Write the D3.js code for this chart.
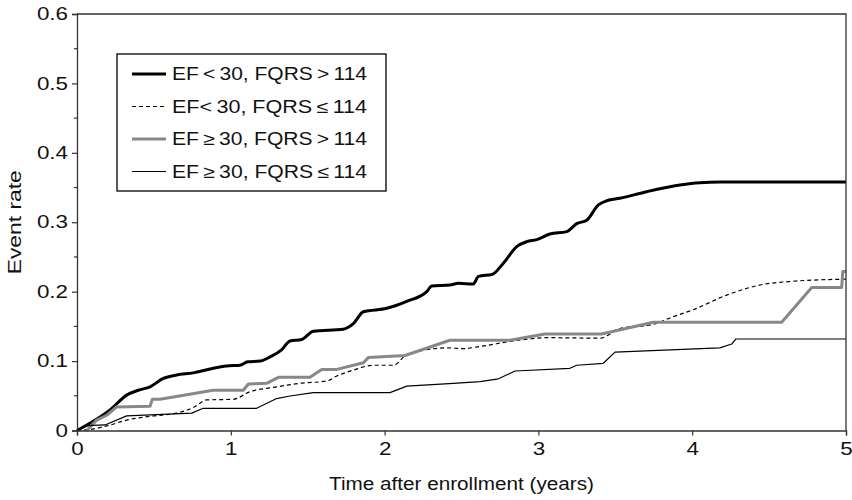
<!DOCTYPE html>
<html>
<head>
<meta charset="utf-8">
<script src="https://cdn.jsdelivr.net/npm/d3@7"></script>
<style>
  html, body { margin: 0; padding: 0; background: #fff; }
  svg { display: block; }
  text { font-family: "Liberation Sans", Arial, Helvetica, sans-serif; fill: #111; }
</style>
</head>
<body>
<svg id="chart" width="852" height="500"></svg>
<script>
// Cumulative event rate by group: [years after enrollment, event rate]
const efLowFqrsHigh = [
  [0,0],[0.215,0.0295],[0.323,0.051],[0.399,0.058],[0.475,0.063],[0.561,0.075],[0.648,0.080],
  [0.756,0.083],[0.865,0.0886],[0.973,0.093],[1.06,0.094],[1.11,0.099],[1.19,0.100],[1.255,0.106],
  [1.33,0.116],[1.385,0.129],[1.46,0.131],[1.537,0.143],[1.73,0.146],[1.797,0.154],[1.862,0.171],
  [2.014,0.176],[2.144,0.186],[2.274,0.200],[2.306,0.208],[2.425,0.2096],[2.48,0.212],[2.577,0.211],
  [2.61,0.222],[2.70,0.225],[2.772,0.241],[2.859,0.265],[2.924,0.272],[2.989,0.275],[3.075,0.283],
  [3.184,0.2865],[3.249,0.298],[3.314,0.303],[3.39,0.325],[3.444,0.331],[3.53,0.3345],[3.704,0.344],
  [3.92,0.3536],[4.05,0.357],[4.18,0.358],[5.0,0.358]
];
const efLowFqrsLow = [
  [0,0],[0.1,0.002],[0.2,0.007],[0.323,0.015],[0.496,0.021],[0.648,0.025],[0.756,0.033],[0.843,0.044],
  [1.016,0.045],[1.125,0.056],[1.276,0.062],[1.45,0.068],[1.624,0.0713],[1.689,0.0785],[1.797,0.087],
  [1.927,0.094],[2.057,0.094],[2.144,0.109],[2.404,0.119],[2.51,0.118],[2.62,0.121],[2.837,0.129],
  [3.054,0.1337],[3.4,0.133],[3.53,0.147],[3.747,0.153],[3.877,0.164],[4.007,0.174],[4.224,0.195],
  [4.441,0.2096],[4.657,0.215],[5.0,0.218]
];
const efHighFqrsHigh = [
  [0.063,0],[0.128,0.015],[0.193,0.022],[0.258,0.034],[0.475,0.035],[0.49,0.045],[0.54,0.045],
  [0.886,0.058],[1.081,0.058],[1.114,0.067],[1.233,0.068],[1.309,0.0766],[1.515,0.0766],[1.591,0.088],
  [1.689,0.088],[1.862,0.0977],[1.894,0.105],[2.133,0.108],[2.425,0.130],[2.815,0.130],[3.043,0.139],
  [3.411,0.139],[3.747,0.156],[4.582,0.156],[4.777,0.206],[4.972,0.206],[4.979,0.229],[5.0,0.229]
];
const efHighFqrsLow = [
  [0,0],[0.063,0.007],[0.182,0.008],[0.323,0.021],[0.746,0.025],[0.821,0.032],[1.168,0.032],
  [1.298,0.046],[1.385,0.0497],[1.537,0.0545],[2.035,0.0545],[2.144,0.064],[2.447,0.068],[2.62,0.0703],
  [2.74,0.0745],[2.848,0.0857],[3.205,0.0896],[3.249,0.094],[3.422,0.0968],[3.498,0.113],[4.18,0.119],
  [4.257,0.1246],[4.283,0.1318],[5.0,0.1318]
];

const legendLabels = [
  "EF\u2009<\u200930, FQRS\u2009>\u2009114",
  "EF<\u200930, FQRS\u2009\u2264\u2009114",
  "EF\u2009\u2265\u200930, FQRS\u2009>\u2009114",
  "EF\u2009\u2265\u200930, FQRS\u2009\u2264\u2009114"
];
const xTicks = [0, 1, 2, 3, 4, 5];
const yTicks = [0, 0.1, 0.2, 0.3, 0.4, 0.5, 0.6];
const yMinorTicks = [0.05, 0.15, 0.25, 0.35, 0.45, 0.55];
const xTitle = "Time after enrollment (years)";
const yTitle = "Event rate";

// Layout
const svg = d3.select("#chart");
const plotLeft = 77, plotRight = 846, plotTop = 14, plotBottom = 430.5;
const x = d3.scaleLinear().domain([0, 5]).range([plotLeft, plotRight]);
const y = d3.scaleLinear().domain([0, 0.6]).range([plotBottom, plotTop]);
const fontSize = 17.5;

// Widen glyphs horizontally around each text's anchor
function widen(sel, k) {
  sel.each(function () {
    const t = d3.select(this);
    const tx = +t.attr("x") || 0, ty = +t.attr("y") || 0;
    t.attr("transform", `translate(${tx},${ty}) scale(${k},1) translate(${-tx},${-ty})`);
  });
}

const seriesDefs = [
  { data: efLowFqrsHigh, color: "#000", width: 3, dash: null, curve: d3.curveMonotoneX },
  { data: efLowFqrsLow, color: "#000", width: 1.2, dash: "4,3", curve: d3.curveMonotoneX },
  { data: efHighFqrsHigh, color: "#888", width: 3, dash: null, curve: d3.curveLinear },
  { data: efHighFqrsLow, color: "#000", width: 1.2, dash: null, curve: d3.curveLinear }
];

// Series lines
seriesDefs.forEach(s => {
  const line = d3.line().x(d => x(d[0])).y(d => y(d[1])).curve(s.curve);
  svg.append("path")
    .datum(s.data)
    .attr("d", line)
    .attr("fill", "none")
    .attr("stroke", s.color)
    .attr("stroke-width", s.width)
    .attr("stroke-linejoin", "round")
    .attr("stroke-dasharray", s.dash);
});

// Frame (top and right)
svg.append("path")
  .attr("d", `M${plotLeft},${plotTop}H${plotRight}V${plotBottom}`)
  .attr("fill", "none").attr("stroke", "#333").attr("stroke-width", 1.3);

// Axes
const xAxis = svg.append("g")
  .attr("transform", `translate(0,${plotBottom})`)
  .call(d3.axisBottom(x).tickValues(xTicks).tickFormat(d3.format("d")).tickSize(5).tickPadding(7.5));
const yAxis = svg.append("g")
  .attr("transform", `translate(${plotLeft},0)`)
  .call(d3.axisLeft(y).tickValues(yTicks).tickFormat(d => d === 0 ? "0" : d3.format(".1f")(d)).tickSize(5).tickPadding(4));

yAxis.selectAll(".minor")
  .data(yMinorTicks).enter().append("line")
  .attr("class", "minor")
  .attr("x1", -3).attr("x2", 0)
  .attr("y1", d => y(d)).attr("y2", d => y(d))
  .attr("stroke", "#333").attr("stroke-width", 1.2);

[xAxis, yAxis].forEach(a => {
  a.select(".domain").attr("stroke", "#333").attr("stroke-width", 1.3);
  a.selectAll(".tick line").attr("stroke", "#333").attr("stroke-width", 1.2);
  a.selectAll(".tick text")
    .attr("font-family", null)
    .attr("font-size", fontSize)
    .attr("fill", "#111")
    .call(widen, 1.28);
});

// Axis titles
svg.append("text")
  .attr("x", (plotLeft + plotRight) / 2).attr("y", 490)
  .attr("text-anchor", "middle")
  .attr("font-size", fontSize)
  .attr("textLength", 265).attr("lengthAdjust", "spacingAndGlyphs")
  .text(xTitle);

svg.append("text")
  .attr("transform", `translate(20.5,${(plotTop + plotBottom) / 2}) rotate(-90)`)
  .attr("text-anchor", "middle")
  .attr("font-size", fontSize)
  .attr("textLength", 104).attr("lengthAdjust", "spacingAndGlyphs")
  .text(yTitle);

// Legend
const lg = svg.append("g");
lg.append("rect")
  .attr("x", 117).attr("y", 54).attr("width", 269).attr("height", 137)
  .attr("fill", "#fff").attr("stroke", "#000").attr("stroke-width", 1.3);

seriesDefs.forEach((s, i) => {
  const cy = 74 + i * 32.5;
  lg.append("line")
    .attr("x1", 132).attr("x2", 166).attr("y1", cy).attr("y2", cy)
    .attr("stroke", s.color).attr("stroke-width", s.width)
    .attr("stroke-dasharray", s.dash);
  lg.append("text")
    .attr("x", 172).attr("y", cy + 6.3)
    .attr("font-size", fontSize)
    .attr("textLength", 195).attr("lengthAdjust", "spacingAndGlyphs")
    .text(legendLabels[i]);
});
</script>
</body>
</html>
